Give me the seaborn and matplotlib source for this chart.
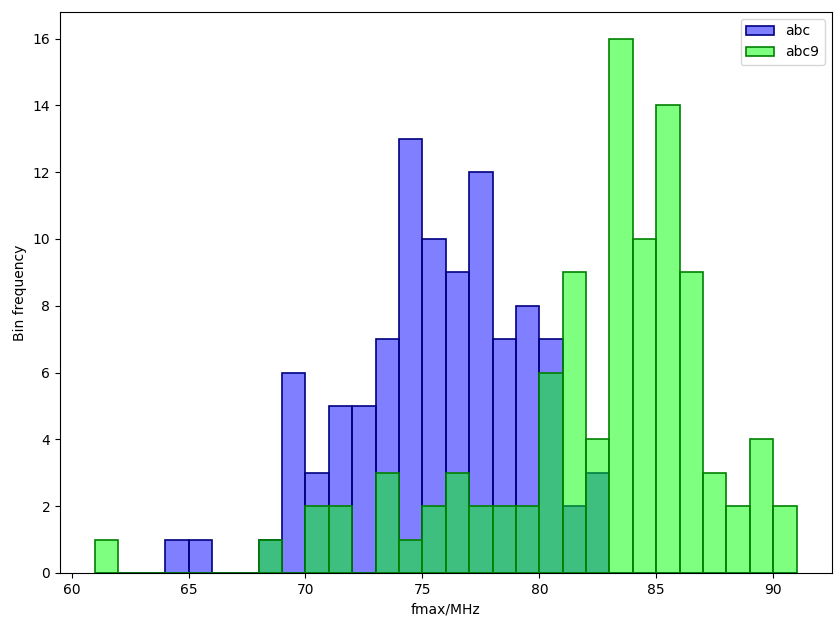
import numpy as np
import pandas as pd
import seaborn as sns
import matplotlib
matplotlib.use("Agg")
import matplotlib.pyplot as plt

# histogram bins (1 MHz wide) and counts
bin_left = list(range(61, 91))
abc_counts = [0, 0, 0, 1, 1, 0, 0, 1, 6, 3, 5, 5, 7, 13, 10, 9, 12, 7, 8, 7,
              2, 3, 0, 0, 0, 0, 0, 0, 0, 0]
abc9_counts = [1, 0, 0, 0, 0, 0, 0, 1, 0, 2, 2, 0, 3, 1, 2, 3, 2, 2, 2, 6,
               9, 4, 16, 10, 14, 9, 3, 2, 4, 2]

edges = bin_left + [bin_left[-1] + 1]
centers = [b + 0.5 for b in bin_left]

df = pd.DataFrame({"fmax": centers, "abc": abc_counts, "abc9": abc9_counts})

fig, ax = plt.subplots(figsize=(8.4, 6.21), dpi=100)
sns.histplot(data=df, x="fmax", weights="abc", bins=edges, color="blue",
             alpha=0.5, edgecolor="navy", linewidth=1.2, label="abc", ax=ax)
sns.histplot(data=df, x="fmax", weights="abc9", bins=edges, color="lime",
             alpha=0.5, edgecolor="green", linewidth=1.2, label="abc9", ax=ax)

ax.set_xlabel("fmax/MHz")
ax.set_ylabel("Bin frequency")
ax.set_xticks([60, 65, 70, 75, 80, 85, 90])
ax.set_yticks(range(0, 17, 2))
ax.legend(loc="upper right")

plt.subplots_adjust(left=0.0714, right=0.990, top=0.981, bottom=0.0773)
plt.savefig("out.png", dpi=100)
